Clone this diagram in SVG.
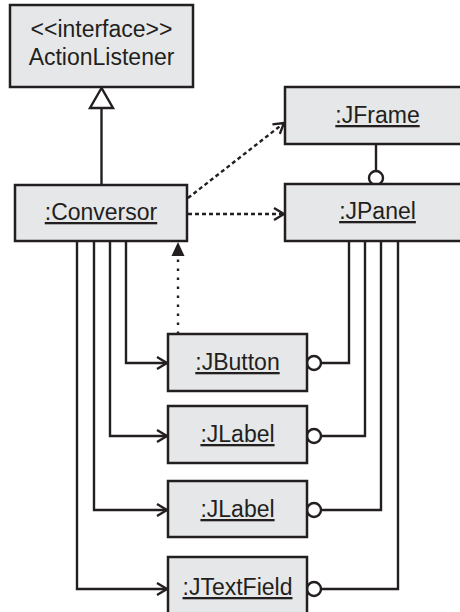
<svg xmlns="http://www.w3.org/2000/svg" width="460" height="612" viewBox="0 0 460 612">
<style>
.box{fill:#e6e7e8;stroke:#231f20;stroke-width:2.5}
.t{font-family:"Liberation Sans",Arial,sans-serif;font-size:23px;fill:#231f20;text-anchor:middle}
.u{text-decoration:underline}
.c{fill:none;stroke:#231f20;stroke-width:2.4}
.dash{stroke-dasharray:4 3}
.dot{stroke-dasharray:2.4 6.6}
.ball{fill:#fff;stroke:#231f20;stroke-width:2.4}
</style>
<defs>
<marker id="open" markerUnits="userSpaceOnUse" viewBox="-12 -8 14 16" refX="0" refY="0" markerWidth="14" markerHeight="16" orient="auto" overflow="visible">
<path d="M-10,-6 L0,0 L-10,6" fill="none" stroke="#231f20" stroke-width="2.4"/>
</marker>
<marker id="filled" markerUnits="userSpaceOnUse" viewBox="-16 -8 18 16" refX="0" refY="0" markerWidth="18" markerHeight="16" orient="auto" overflow="visible">
<path d="M-14,-6.5 L0,0 L-14,6.5 Z" fill="#231f20"/>
</marker>
</defs>
<rect width="460" height="612" fill="#fff"/>
<g id="connectors">
<line class="c" x1="101.5" y1="108" x2="101.5" y2="185"/>
<polygon points="101.5,88 90,108 113,108" fill="#fff" stroke="#231f20" stroke-width="2.4" stroke-linejoin="miter"/>
<line class="c dash" x1="188" y1="198" x2="284" y2="123" marker-end="url(#open)"/>
<line class="c dash" x1="188" y1="214" x2="284" y2="214" marker-end="url(#open)"/>
<line class="c" x1="376" y1="144" x2="376" y2="171"/>
<circle class="ball" cx="376" cy="178" r="7"/>
<line class="c dot" x1="178" y1="334" x2="178" y2="250"/>
<line x1="178" y1="250" x2="178" y2="242" stroke="none" marker-end="url(#filled)"/>
<polyline class="c" points="126,241 126,363 167,363" marker-end="url(#open)"/>
<polyline class="c" points="110,241 110,436 167,436" marker-end="url(#open)"/>
<polyline class="c" points="94,241 94,510 167,510" marker-end="url(#open)"/>
<polyline class="c" points="77,241 77,589 167,589" marker-end="url(#open)"/>
<polyline class="c" points="349,241 349,363 321,363"/>
<circle class="ball" cx="314" cy="363" r="7"/>
<polyline class="c" points="365,241 365,436 321,436"/>
<circle class="ball" cx="314" cy="436" r="7"/>
<polyline class="c" points="381,241 381,510 321,510"/>
<circle class="ball" cx="314" cy="510" r="7"/>
<polyline class="c" points="398,241 398,589 321,589"/>
<circle class="ball" cx="314" cy="589" r="7"/>
</g>
<g id="ActionListener">
<rect class="box" x="10" y="5" width="183" height="82"/>
<text class="t" x="101.5" y="37">&lt;&lt;interface&gt;&gt;</text>
<text class="t" x="101.5" y="65">ActionListener</text>
</g>
<g id="Conversor">
<rect class="box" x="15" y="185" width="172" height="56"/>
<text class="t u" x="101" y="220">:Conversor</text>
</g>
<g id="JFrame">
<rect class="box" x="285" y="87" width="185" height="57"/>
<text class="t u" x="377.5" y="123">:JFrame</text>
</g>
<g id="JPanel">
<rect class="box" x="285" y="184" width="185" height="57"/>
<text class="t u" x="377.5" y="219">:JPanel</text>
</g>
<g id="JButton">
<rect class="box" x="168" y="334" width="139" height="57"/>
<text class="t u" x="237.5" y="370">:JButton</text>
</g>
<g id="JLabel1">
<rect class="box" x="168" y="406" width="139" height="57"/>
<text class="t u" x="237.5" y="442">:JLabel</text>
</g>
<g id="JLabel2">
<rect class="box" x="168" y="481" width="139" height="56"/>
<text class="t u" x="237.5" y="517">:JLabel</text>
</g>
<g id="JTextField">
<rect class="box" x="168" y="557" width="139" height="70"/>
<text class="t u" x="237.5" y="595">:JTextField</text>
</g>
</svg>
